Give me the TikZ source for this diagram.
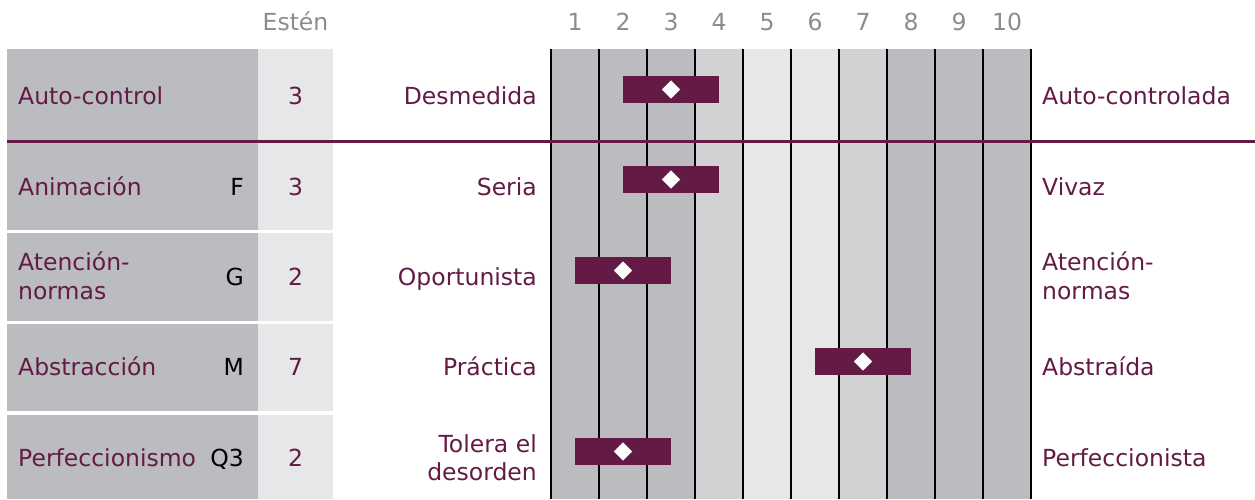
\documentclass[tikz,border=0pt]{standalone}
\usepackage{fontspec}
\setmainfont{DejaVu Sans}
\usetikzlibrary{shapes.geometric}

\definecolor{vino}{HTML}{631B45}
\definecolor{grisosc}{HTML}{BBBCC0}
\definecolor{grismed}{HTML}{D1D2D4}
\definecolor{grisclaro}{HTML}{E6E7E9}
\definecolor{gristexto}{HTML}{8C8C8C}

\newcommand{\fuente}{\fontsize{23.5}{28.3}\selectfont}

\tikzset{
    etiqueta/.style={font=\fuente, text=vino, inner sep=0pt, text height=17pt, text depth=0pt},
    doble/.style={text height=45.3pt},
    factor/.style={etiqueta, text=black, anchor=east},
    cabecera/.style={font=\fuente, text=gristexto, inner sep=0pt, anchor=base},
    rejilla/.style={black, line width=1.4pt},
    barra/.style={fill=vino, inner sep=0pt, minimum width=96pt, minimum height=27pt},
    punto/.style={diamond, fill=white, inner sep=0pt, minimum size=18.6pt}
}

\begin{document}
\begin{tikzpicture}[x=1pt, y=-1pt]
    \useasboundingbox (0,0) rectangle (1255,499);

    % Columnas de la escala
    \foreach \c/\col in {1/grisosc,2/grisosc,3/grisosc,4/grismed,5/grisclaro,6/grisclaro,7/grismed,8/grisosc,9/grisosc,10/grisosc} {
        \fill[\col] ({503+48*\c},49) rectangle ({551+48*\c},499);
        \node[cabecera] (n\c) at ({527+48*\c},30.5) {\c};
    }
    \foreach \i in {0,...,10}
        \draw[rejilla] ({551+48*\i},49) -- ({551+48*\i},499);
    \node[cabecera] (esten) at (295.5,30.5) {Estén};

    % Casillas de la izquierda
    \foreach \t/\b in {49/141, 142/229.5, 233/320.5, 324/411, 414.5/499} {
        \fill[grisosc] (7,\t) rectangle (258,\b);
        \fill[grisclaro] (258,\t) rectangle (333,\b);
    }
    \draw[vino, line width=3pt] (7,141.5) -- (1255,141.5);

    % Auto-control
    \node[etiqueta, anchor=west] (e1) at (18,95.5) {Auto-control};
    \node[etiqueta] (s1) at (295.5,95.5) {3};
    \node[etiqueta, anchor=east] (iz1) at (537,95.5) {Desmedida};
    \node[etiqueta, anchor=west] (de1) at (1042,95.5) {Auto-controlada};
    \node[barra] (b1) at (671,89.5) {};
    \node[punto] (p1) at (b1.center) {};

    % Animacion
    \node[etiqueta, anchor=west] (e2) at (18,186.5) {Animación};
    \node[factor] (f2) at (244,186.5) {F};
    \node[etiqueta] (s2) at (295.5,186.5) {3};
    \node[etiqueta, anchor=east] (iz2) at (537,186.5) {Seria};
    \node[etiqueta, anchor=west] (de2) at (1042,186.5) {Vivaz};
    \node[barra] (b2) at (671,179.5) {};
    \node[punto] (p2) at (b2.center) {};

    % Atencion a normas
    \node[etiqueta, doble, align=left, anchor=west] (e3) at (18,276.5) {Atención-\\normas};
    \node[factor] (f3) at (244,276.5) {G};
    \node[etiqueta] (s3) at (295.5,276.5) {2};
    \node[etiqueta, anchor=east] (iz3) at (537,276.5) {Oportunista};
    \node[etiqueta, doble, align=left, anchor=west] (de3) at (1042,276.5) {Atención-\\normas};
    \node[barra] (b3) at (623,270.5) {};
    \node[punto] (p3) at (b3.center) {};

    % Abstraccion
    \node[etiqueta, anchor=west] (e4) at (18,367) {Abstracción};
    \node[factor] (f4) at (244,367) {M};
    \node[etiqueta] (s4) at (295.5,367) {7};
    \node[etiqueta, anchor=east] (iz4) at (537,367) {Práctica};
    \node[etiqueta, anchor=west] (de4) at (1042,367) {Abstraída};
    \node[barra] (b4) at (863,361.5) {};
    \node[punto] (p4) at (b4.center) {};

    % Perfeccionismo
    \node[etiqueta, anchor=west] (e5) at (18,458) {Perfeccionismo};
    \node[factor] (f5) at (244,458) {Q3};
    \node[etiqueta] (s5) at (295.5,458) {2};
    \node[etiqueta, doble, align=right, anchor=east] (iz5) at (537,458) {Tolera el\\desorden};
    \node[etiqueta, anchor=west] (de5) at (1042,458) {Perfeccionista};
    \node[barra] (b5) at (623,451.5) {};
    \node[punto] (p5) at (b5.center) {};
\end{tikzpicture}
\end{document}
